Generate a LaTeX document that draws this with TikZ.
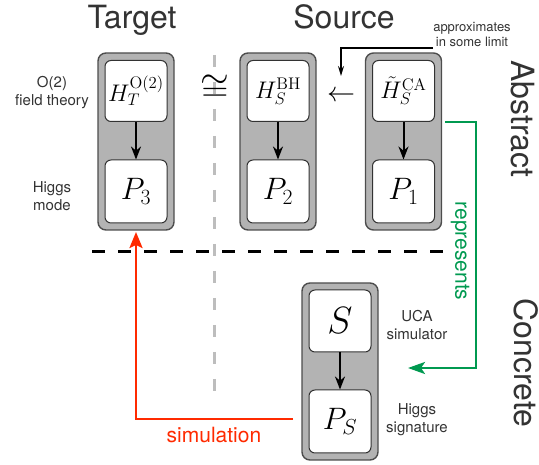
\RequirePackage{fix-cm}
\documentclass[tikz,border=0pt]{standalone}
\usepackage[no-math]{fontspec}
\newfontfamily\hv{TeX Gyre Heros}
\usetikzlibrary{arrows.meta}
\definecolor{boxfill}{HTML}{B3B3B3}
\definecolor{boxborder}{HTML}{4D4D4D}
\definecolor{innerborder}{HTML}{333333}
\definecolor{simred}{HTML}{FF2A00}
\definecolor{repgreen}{HTML}{009950}
\definecolor{graydash}{HTML}{BDBDBD}
\definecolor{labelgray}{HTML}{333333}
\begin{document}
\begin{tikzpicture}[x=1pt,y=-1pt,
  outerbox/.style={draw=boxborder, fill=boxfill, rounded corners=8pt, line width=1.4pt,
    minimum width=76pt, minimum height=177pt, inner sep=0pt},
  innerbox/.style={draw=innerborder, fill=white, rounded corners=6pt, line width=1pt,
    minimum width=62pt, inner sep=0pt},
  hbox/.style={innerbox, minimum height=61pt, font=\fontsize{24}{26}\selectfont},
  pbox/.style={innerbox, minimum height=63pt, font=\fontsize{31}{33}\selectfont},
  flow/.style={-{Stealth[length=13pt,width=10pt]}, line width=2pt, black},
  heading/.style={font=\hv\fontsize{32}{34}\selectfont, text=black!80, inner sep=0pt},
  sidelabel/.style={font=\hv\fontsize{15}{18}\selectfont, text=labelgray, align=center, inner sep=0pt},
  colourtext/.style={font=\hv\fontsize{21}{23}\selectfont, inner sep=0pt}
]
\useasboundingbox (0,0) rectangle (539,465);

% headings
\node[heading, anchor=base] (target) at (132,29) {Target};
\node[heading, anchor=base] (source) at (344,29) {Source};
\node[heading, rotate=-90] (abstract) at (523,119) {Abstract};
\node[heading, rotate=-90] (concrete) at (526,363) {Concrete};

% gray vertical divider
\coordinate (vtop) at (214,55);
\coordinate (vbot) at (214,402);
\draw[graydash, line width=3pt, dash pattern=on 12pt off 15pt] (vtop) -- (vbot);

% black horizontal divider
\coordinate (hleft) at (92,252);
\coordinate (hright) at (443,252);
\draw[black, line width=3pt, dash pattern=on 13pt off 13pt] (hleft) -- (hright);

% target column
\node[outerbox] (tout) at (136,141.5) {};
\node[hbox] (ttop) at (136,91) {$H_T^{\mathrm{O}(2)}$};
\node[pbox] (tbot) at (136,191.5) {$P_3$};
\draw[flow] (ttop) -- (tbot);

% source BH column
\node[outerbox] (bout) at (278,141.5) {};
\node[hbox] (btop) at (278,91) {$H_S^{\mathrm{BH}}$};
\node[pbox] (bbot) at (278,191.5) {$P_2$};
\draw[flow] (btop) -- (bbot);

% source CA column
\node[outerbox] (cout) at (403.5,141.5) {};
\node[hbox] (ctop) at (403.5,91) {$\tilde{H}_S^{\mathrm{CA}}$};
\node[pbox] (cbot) at (403.5,191.5) {$P_1$};
\draw[flow] (ctop) -- (cbot);

% concrete column
\node[outerbox] (sout) at (340,371.5) {};
\node[innerbox, minimum height=62pt, font=\fontsize{38}{40}\selectfont] (stop) at (340,321) {$S$};
\node[pbox] (sbot) at (340,421.5) {$P_S$};
\draw[flow] (stop) -- (sbot);

% relation symbols
\node[font=\fontsize{37}{40}\selectfont, inner sep=0pt] (cong) at (215,88) {$\cong$};
\node[font=\fontsize{28}{30}\selectfont, inner sep=0pt] (larrow) at (341,96) {$\leftarrow$};

% side labels
\node[sidelabel] (o2lab) at (52,93) {O(2)\\field theory};
\node[sidelabel] (higgslab) at (52,196) {Higgs\\mode};
\node[sidelabel] (ucalab) at (417,325) {UCA\\simulator};
\node[sidelabel] (siglab) at (417,420) {Higgs\\signature};
\node[font=\hv\fontsize{13}{15}\selectfont, text=labelgray, align=center, inner sep=0pt] (approx) at (472,35) {approximates\\in some limit};

% approximates arrow
\coordinate (apstart) at (433,48);
\coordinate (apend) at (341,76);
\draw[-{Stealth[length=10pt,width=6pt]}, line width=1.5pt, black] (apstart) -| (apend);

% represents (green)
\coordinate (gstart) at (445,122);
\coordinate (gcorner) at (476,122);
\coordinate (gend) at (408,368);
\draw[repgreen, line width=2.5pt, -{Stealth[length=17pt,width=12pt,inset=4pt]}] (gstart) -- (gcorner) |- (gend);
\node[colourtext, text=repgreen, rotate=-90] (replab) at (460,251) {represents};

% simulation (red)
\coordinate (rstart) at (293,419);
\coordinate (rend) at (136,232);
\draw[simred, line width=2.5pt, -{Stealth[length=16pt,width=13pt,inset=3pt]}] (rstart) -| (rend);
\node[colourtext, text=simred] (simlab) at (214,435) {simulation};
\end{tikzpicture}
\end{document}
